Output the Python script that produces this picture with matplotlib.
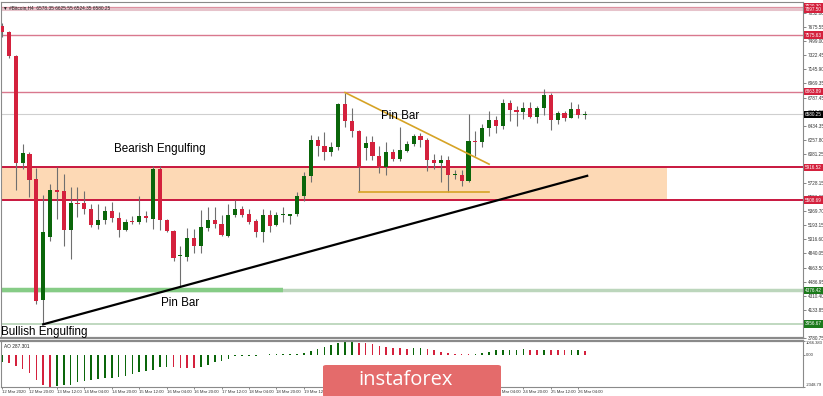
import matplotlib
matplotlib.use("Agg")
import matplotlib.pyplot as plt
from matplotlib.patches import FancyBboxPatch
from matplotlib.transforms import blended_transform_factory
import numpy as np

## Bitcoin H4 candles
opens = [7690, 7615, 7316, 5971, 6083, 5771, 4251, 5049, 5634, 5622,
         5136, 5472, 5472, 5397, 5198, 5260, 5372, 5285, 5136, 5248,
         5235, 5310, 5273, 5896, 5260, 5123, 4805, 4799, 5036, 4936,
         5161, 5260, 5210, 5061, 5323, 5397, 5335, 5248, 5111, 5323,
         5198, 5323, 5310, 5335, 5559, 5809, 6257, 6182, 6108, 6170,
         6706, 6494, 6369, 6157, 6232, 6058, 5921, 6108, 6020, 6120,
         6207, 6307, 6257, 6008, 5971, 6008, 5821, 5821, 5746, 6245,
         6232, 6407, 6506, 6432, 6718, 6631, 6606, 6656, 6544, 6656,
         6830, 6506, 6594, 6531, 6643, 6578.35]
highs = [7727, 7628, 7329, 6207, 6108, 5908, 5572, 5709, 5921, 5833,
         5672, 5672, 5622, 5460, 5460, 5435, 5485, 5360, 5273, 5310,
         5559, 5372, 5933, 5933, 5273, 5136, 4936, 5161, 5148, 5385,
         5422, 5422, 5323, 5460, 5510, 5435, 5397, 5273, 5397, 5385,
         5360, 5422, 5335, 5609, 5858, 6319, 6307, 6357, 6232, 6718,
         6855, 6656, 6382, 6307, 6307, 6182, 6232, 6145, 6419, 6245,
         6332, 6344, 6282, 6083, 6070, 6058, 5883, 5883, 6581, 6369,
         6456, 6618, 6556, 6780, 6756, 6681, 6731, 6731, 6681, 6905,
         6855, 6618, 6618, 6731, 6706, 6625.55]
lows = [7553, 7291, 5634, 5896, 5547, 4201, 3952, 4999, 5273, 4936,
        4774, 5298, 5335, 5173, 5148, 5210, 5235, 5049, 5123, 5210,
        5210, 5235, 5148, 5136, 5111, 4749, 4426, 4749, 4849, 4849,
        5123, 5161, 5061, 5049, 5298, 5298, 5210, 5049, 4986, 5111,
        5186, 5235, 5210, 5310, 5497, 5734, 6058, 6008, 6058, 6133,
        6419, 6295, 5609, 6008, 6008, 5846, 5821, 5995, 5995, 6108,
        6182, 6170, 5871, 5896, 5734, 5609, 5771, 5684, 5740, 6058,
        6170, 6307, 6344, 6394, 6494, 6432, 6519, 6531, 6469, 6569,
        6382, 6456, 6494, 6531, 6531, 6524.35]
closes = [7615, 7316, 5971, 6095, 5759, 4239, 5111, 5634, 5615, 5136,
          5472, 5460, 5397, 5198, 5260, 5372, 5285, 5136, 5235, 5235,
          5310, 5285, 5896, 5260, 5123, 4787, 4812, 5036, 4936, 5173,
          5260, 5210, 5073, 5323, 5397, 5323, 5235, 5111, 5323, 5186,
          5323, 5328, 5335, 5559, 5809, 6257, 6182, 6108, 6170, 6706,
          6494, 6369, 5921, 6220, 6058, 5921, 6108, 6020, 6133, 6207,
          6307, 6257, 6008, 5971, 6008, 5821, 5827, 5746, 6245, 6232,
          6407, 6506, 6432, 6718, 6631, 6606, 6656, 6544, 6656, 6818,
          6506, 6594, 6531, 6643, 6569, 6580.25]

## awesome oscillator
ao = [-560, -610, -800, -1076, -1380, -1849, -2263, -2348.79, -2330, -2263,
      -2208, -1987, -1932, -1849, -1766, -1711, -1700, -1656, -1573, -1435,
      -1297, -1214, -1104, -938, -883, -938, -945, -966, -975, -883,
      -745, -552, -469, -276, -110, -75, -65, -55, -45, 45,
      55, 65, 75, 85, 166, 276, 442, 552, 760, 870,
      1040, 1066.383, 900, 850, 800, 660, 550, 500, 490, 470,
      480, 490, 470, 330, 220, 165, 75, 65, 55, 60,
      165, 220, 330, 386, 390, 395, 400, 390, 385, 390,
      380, 340, 330, 335, 340, 287.301]

time_labels = ["12 Mar 2020", "12 Mar 20:00", "13 Mar 12:00", "14 Mar 04:00",
               "14 Mar 20:00", "15 Mar 12:00", "16 Mar 04:00", "16 Mar 20:00",
               "17 Mar 12:00", "18 Mar 04:00", "18 Mar 20:00", "19 Mar 12:00",
               "20 Mar 04:00", "20 Mar 20:00", "21 Mar 12:00", "22 Mar 04:00",
               "22 Mar 20:00", "23 Mar 12:00", "24 Mar 04:00", "24 Mar 20:00",
               "25 Mar 12:00", "26 Mar 04:00"]
price_labels = ["7852.00", "7675.55", "7499.00", "7322.45", "7145.90", "6969.35",
                "6787.45", "6610.90", "6434.35", "6257.80", "6081.25", "5904.70",
                "5728.15", "5551.60", "5369.70", "5193.15", "5016.60", "4840.05",
                "4663.50", "4486.95", "4310.40", "4133.85", "3957.30", "3780.75"]

## horizontal levels
level_prices = [7929.30, 7897.50, 7575.63, 6863.89, 5916.52, 5508.69, 4376.42, 3956.67]
level_kind = ["red", "red", "red", "red", "red", "red", "green", "green"]
zone_low, zone_high = 5508.69, 5916.52
last_price = 6580.25

RED = "#d4213d"
GREEN = "#0a660a"
SMALL = 3.3

W, H = 823, 396
fig = plt.figure(figsize=(W / 100, H / 100), dpi=100)
plt.rcParams['font.family'] = ['Liberation Sans', 'DejaVu Sans']

def fx(px):
    return px / W

def fy(py):
    return 1 - py / H

ax = fig.add_axes([fx(1), fy(338), fx(803) - fx(1), fy(2) - fy(338)])
sub = fig.add_axes([fx(1), fy(386.5), fx(803) - fx(1), fy(340.5) - fy(386.5)])

n = len(opens)
x = np.arange(n)
o, h, l, c = map(np.array, (opens, highs, lows, closes))
xmin, xmax = -0.15, 116.76

## zone and levels
ax.fill_between([xmin, 97], zone_low, zone_high, color="#fdd9b5", zorder=1, lw=0)
ax.axhline(level_prices[0], color="#dd8f9f", lw=0.9, zorder=2)
ax.axhline(level_prices[1], color="#e6c3cb", lw=2.2, zorder=2)
ax.axhline(level_prices[2], color="#d9788e", lw=1.0, zorder=2)
ax.axhline(level_prices[3], color="#d9788e", lw=1.0, zorder=2)
ax.axhline(zone_high, color="#c8163e", lw=1.4, zorder=2)
ax.axhline(zone_low, color="#c8163e", lw=1.4, zorder=2)
ax.axhline(level_prices[6], color="#bcd6bc", lw=2.5, zorder=2)
ax.plot([xmin, 41], [level_prices[6]] * 2, color="#86cc86", lw=3.2, zorder=2,
        solid_capstyle="butt")
ax.axhline(level_prices[7], color="#b5d2b5", lw=1.2, zorder=2)
ax.axhline(last_price, color="#cfcfcf", lw=0.8, zorder=2)

## candles
ax.vlines(x, l, h, color="#6f6f6f", lw=0.8, zorder=3)
body_low = np.minimum(o, c)
body_h = np.maximum(np.abs(c - o), 12)
ax.bar(x, body_h, bottom=body_low, width=0.6,
       color=np.where(c >= o, GREEN, RED), lw=0, zorder=4)

## trend lines
ax.plot([6, 85.3], [lows[6], 5812], color="black", lw=1.6, zorder=5)
ax.plot([50, 71], [highs[50], 5958], color="#d6a325", lw=1.2, zorder=5)
ax.plot([52, 71], [lows[52], lows[52]], color="#d6a325", lw=1.2, zorder=5)

## pattern labels
ax.text(23.0, 6150, "Bearish Engulfing", fontsize=8.4, ha="center", va="center", zorder=6)
ax.text(58.0, 6565, "Pin Bar", fontsize=8.4, ha="center", va="center", zorder=6)
ax.text(25.9, 4225, "Pin Bar", fontsize=8.4, ha="center", va="center", zorder=6)
ax.text(xmin + 0.05, 3855, "Bullish Engulfing", fontsize=8.4, ha="left", va="center", zorder=6)

ax.set_xlim(xmin, xmax)
ax.set_ylim(3782, 7989)
ax.set_xticks([])
ax.yaxis.tick_right()
ax.set_yticks([float(s) for s in price_labels], price_labels)
ax.tick_params(axis="y", length=2, width=0.5, color="#555555", labelsize=SMALL,
               pad=1.2, labelcolor="#333333")
for sp in ax.spines.values():
    sp.set_color("#8a8a8a")
    sp.set_linewidth(0.8)
ax.spines["bottom"].set_linewidth(1.6)

## level price boxes on the right
tr = blended_transform_factory(ax.transAxes, ax.transData)
for p, k in zip(level_prices, level_kind):
    ax.text(1.0025, p, f"{p:.2f}", transform=tr, fontsize=SMALL, color="white",
            ha="left", va="center", zorder=10, clip_on=False,
            bbox=dict(boxstyle="square,pad=0.25", fc=RED if k == "red" else "#1b7a1b",
                      ec="none"))
ax.text(1.0025, last_price, f"{last_price:.2f}", transform=tr, fontsize=SMALL,
        color="white", ha="left", va="center", zorder=10, clip_on=False,
        bbox=dict(boxstyle="square,pad=0.25", fc="black", ec="none"))

ax.text(0.003, 0.99, "\u25bc #Bitcoin,H4  6578.35 6625.55 6524.35 6580.25",
        transform=ax.transAxes, fontsize=3.4, ha="left", va="top", color="#222222")

## oscillator panel
ao_arr = np.array(ao)
ao_col = [GREEN] + [GREEN if ao_arr[i] >= ao_arr[i - 1] else RED for i in range(1, n)]
sub.bar(x, ao_arr, width=0.24, color=ao_col, lw=0)
sub.set_xlim(xmin, xmax)
sub.set_ylim(-2348.79, 1066.383)
sub.yaxis.tick_right()
sub.set_yticks([1066.383, 0, -2348.79], ["1066.383", "0.00", "-2348.79"])
sub.tick_params(axis="y", length=1.5, width=0.5, color="#555555", labelsize=3.0,
                pad=0.8, labelcolor="#333333")
tl = sub.get_yticklabels()
tl[0].set_va("top")
tl[2].set_va("bottom")
sub.set_xticks(np.arange(0, 4 * len(time_labels), 4), time_labels)
sub.tick_params(axis="x", length=1.5, width=0.5, color="#555555", labelsize=3.1,
                pad=1.2, labelcolor="#333333")
for t in sub.get_xticklabels():
    t.set_ha("left")
for sp in sub.spines.values():
    sp.set_color("#8a8a8a")
    sp.set_linewidth(0.8)
sub.spines["top"].set_linewidth(1.6)
sub.text(0.004, 0.93, "AO 287.301", transform=sub.transAxes, fontsize=3.4,
         ha="left", va="top", color="#222222")

## watermark
logo = FancyBboxPatch((fx(323), fy(397)), fx(501) - fx(323), fy(365) - fy(397),
                      boxstyle="round,pad=0,rounding_size=0.004",
                      transform=fig.transFigure, fc="#e46b6b", ec="none", zorder=5)
fig.add_artist(logo)
fig.text(fx(406), fy(380), "instaforex", color="white", fontsize=14.5,
         family="Open Sans", ha="center", va="center", zorder=6)

fig.savefig("out.png", dpi=100)
